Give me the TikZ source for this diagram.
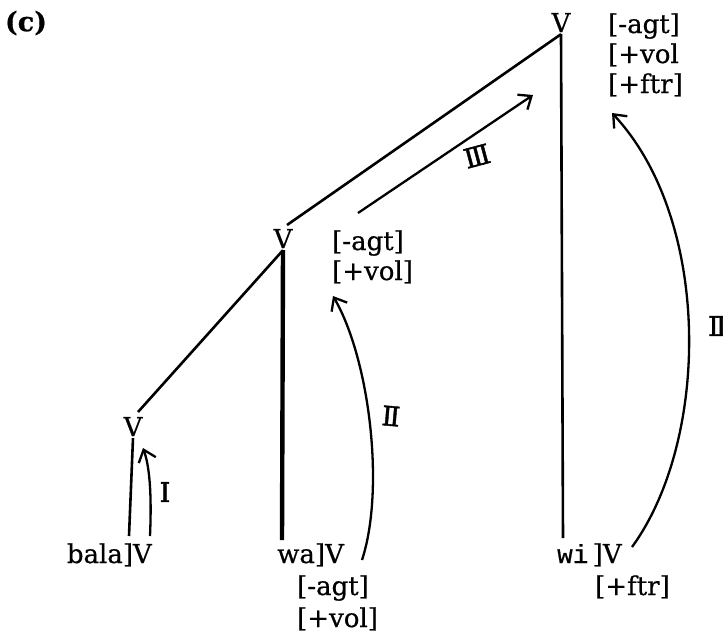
\documentclass[tikz,border=0pt]{standalone}
\usepackage{fontspec}
\setmainfont[FakeBold=0.6]{DejaVu Serif}
\newfontfamily\monof[FakeBold=0.6]{Liberation Mono}
\newfontfamily\numf[FakeBold=1.5]{DejaVu Serif}
\usetikzlibrary{arrows.meta,calc}
\begin{document}
\begin{tikzpicture}[x=1pt,y=-1pt,
  lbl/.style={font=\fontsize{26}{30}\selectfont, inner sep=0pt},
  vnode/.style={font=\fontsize{26}{30}\selectfont, inner sep=2pt, anchor=base},
  branch/.style={line width=2.6pt},
  thickbranch/.style={line width=4.4pt},
  mv/.style={-{Straight Barb[length=11pt,width=18pt,line width=2.3pt]}, line width=2.3pt},
  rn/.style={font=\numf\fontsize{27}{30}\selectfont, inner sep=0pt}]
\useasboundingbox (0,0) rectangle (723,633);

% title
\node[font=\bfseries\fontsize{27}{30}\selectfont, inner sep=0pt] (title) at (26,23) {(c)};

% V nodes
\node[vnode] (vT) at (561,32) {V};
\node[vnode] (vM) at (283,248) {V};
\node[vnode] (vL) at (133,436) {V};

% feature labels
\node[lbl, anchor=base west] (tA) at (608,33) {[-agt]};
\node[lbl, anchor=base west] (tB) at (608,63) {[+vol};
\node[lbl, anchor=base west] (tC) at (608,93) {[+ftr]};

\node[lbl, anchor=base west] (mA) at (332,250) {[-agt]};
\node[lbl, anchor=base west] (mB) at (332,280) {[+vol]};

% bottom words
\node[lbl, anchor=base east] (bala) at (152,563) {bala]V};
\node[lbl, anchor=base west] (wa) at (277,563) {wa]V};
\node[lbl, anchor=base west] (waA) at (297,595) {[-agt]};
\node[lbl, anchor=base west] (waB) at (297,627) {[+vol]};
\node[lbl, anchor=base west] (wi) at (557,563) {{\monof wi}\,]V};
\node[lbl, anchor=base west] (wiF) at (595,595) {[+ftr]};

% connector end points
\coordinate (mvTop) at (287,225);
\coordinate (lvTop) at (138,412);
\coordinate (balaTop) at (129,536);
\coordinate (iStart) at (150,536);
\coordinate (waTop) at (282,540);
\coordinate (wiTop) at (563,538);
\coordinate (iiStart) at (362,560);
\coordinate (iiEnd) at (333,296);
\coordinate (rStart) at (632,547);
\coordinate (rEnd) at (612,113);
\coordinate (iiiStart) at (358,213);
\coordinate (iiiEnd) at (533,95);

% tree branches
\draw[branch] (vT.south) -- (mvTop);
\draw[branch] (vT.south) -- (wiTop);
\draw[branch] (vM.south) -- (lvTop);
\draw[thickbranch] (vM.south) -- (waTop);
\draw[branch] (vL.south) -- (balaTop);

% movement arrows
\draw[mv] (iStart) .. controls (152,490) and (149,465) .. (143,448);
\draw[mv] (iiStart) .. controls (385,490) and (370,360) .. (iiEnd);
\draw[mv] (rStart) .. controls (710,440) and (712,220) .. (rEnd);
\draw[mv] (iiiStart) -- (iiiEnd);

% rule labels
\node[rn] (rI) at (165,492) {I};
\node[rn, rotate=-5] (rII) at (391,416) {I\kern-3pt I};
\node[rn, rotate=15] (rIII) at (477,156) {I\kern-3pt I\kern-3pt I};
\node[rn, anchor=west] (rIIb) at (708,326) {I\kern-3pt I};
\end{tikzpicture}
\end{document}
